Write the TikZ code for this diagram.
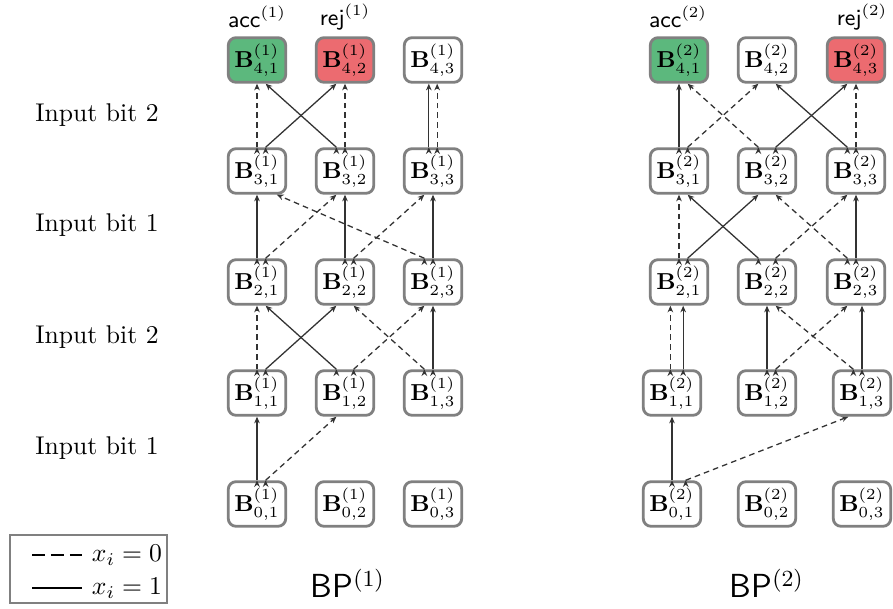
\documentclass[tikz,border=0pt]{standalone}
\usetikzlibrary{arrows.meta}
\definecolor{boxgray}{RGB}{128,128,128}
\definecolor{accgreen}{RGB}{92,184,125}
\definecolor{rejred}{RGB}{236,107,112}

\begin{document}
\begin{tikzpicture}[x=0.39pt, y=-0.39pt,
  state/.style={shape=rectangle, rounded corners=3pt, draw=boxgray, line width=1.1pt, fill=white, minimum width=22.4pt, minimum height=17.4pt, inner sep=0.5pt, font=\small},
  accstate/.style={state, fill=accgreen},
  rejstate/.style={state, fill=rejred},
  one/.style={-{Stealth[length=2.6pt, width=2.2pt]}, line width=0.5pt, draw=black!80},
  zero/.style={one, dash pattern=on 2.2pt off 1.6pt}]
\useasboundingbox (0,0) rectangle (893,609);
% input bit labels
\node (in4) at (97,115) {Input bit 2};
\node (in3) at (97,225) {Input bit 1};
\node (in2) at (97,337) {Input bit 2};
\node (in1) at (97,448) {Input bit 1};
% legend
\draw[draw=boxgray, line width=0.8pt] (10,535) rectangle (167,603);
\coordinate (l0a) at (32,555); \coordinate (l0b) at (82,555);
\coordinate (l1a) at (32,588); \coordinate (l1b) at (82,588);
\draw[line width=0.9pt, dash pattern=on 5pt off 2.4pt] (l0a) -- (l0b);
\draw[line width=0.9pt] (l1a) -- (l1b);
\node (leg0) at (127,555) {$x_i = 0$};
\node (leg1) at (127,588) {$x_i = 1$};
% BP(1)
\node (acc1) at (257,17) {\small\textsf{acc}$^{(1)}$};
\node (rej1) at (345,17) {\small\textsf{rej}$^{(1)}$};
\node[accstate] (a41) at (257,60) {$\mathbf{B}^{(1)}_{4,1}$};
\node[rejstate] (a42) at (345,60) {$\mathbf{B}^{(1)}_{4,2}$};
\node[state] (a43) at (433,60) {$\mathbf{B}^{(1)}_{4,3}$};
\node[state] (a31) at (257,171) {$\mathbf{B}^{(1)}_{3,1}$};
\node[state] (a32) at (345,171) {$\mathbf{B}^{(1)}_{3,2}$};
\node[state] (a33) at (433,171) {$\mathbf{B}^{(1)}_{3,3}$};
\node[state] (a21) at (257,282) {$\mathbf{B}^{(1)}_{2,1}$};
\node[state] (a22) at (345,282) {$\mathbf{B}^{(1)}_{2,2}$};
\node[state] (a23) at (433,282) {$\mathbf{B}^{(1)}_{2,3}$};
\node[state] (a11) at (257,393) {$\mathbf{B}^{(1)}_{1,1}$};
\node[state] (a12) at (345,393) {$\mathbf{B}^{(1)}_{1,2}$};
\node[state] (a13) at (433,393) {$\mathbf{B}^{(1)}_{1,3}$};
\node[state] (a01) at (257,504) {$\mathbf{B}^{(1)}_{0,1}$};
\node[state] (a02) at (345,504) {$\mathbf{B}^{(1)}_{0,2}$};
\node[state] (a03) at (433,504) {$\mathbf{B}^{(1)}_{0,3}$};
\node (bp1) at (348,583) {\fontsize{13}{15}\selectfont\textsf{BP}$^{(1)}$};
\path [one] (a01.north) edge (a11.south);
\path [zero] (a01.70) edge (a12.250);
\path [zero] (a11.north) edge (a21.south);
\path [one] (a11.70) edge (a22.250);
\path [one] (a12.110) edge (a21.290);
\path [zero] (a12.70) edge (a23.250);
\path [zero] (a13.110) edge (a22.290);
\path [one] (a13.north) edge (a23.south);
\path [one] (a21.north) edge (a31.south);
\path [zero] (a21.70) edge (a32.250);
\path [one] (a22.north) edge (a32.south);
\path [zero] (a22.70) edge (a33.250);
\path [zero] (a23.110) edge (a31.310);
\path [one] (a23.north) edge (a33.south);
\path [zero] (a31.north) edge (a41.south);
\path [one] (a31.70) edge (a42.250);
\path [one] (a32.110) edge (a41.290);
\path [zero] (a32.north) edge (a42.south);
\path [one] (a33.100) edge (a43.260);
\path [zero] (a33.80) edge (a43.280);
% BP(2)
\node (acc2) at (678,17) {\small\textsf{acc}$^{(2)}$};
\node (rej2) at (862,17) {\small\textsf{rej}$^{(2)}$};
\node[accstate] (b41) at (679,60) {$\mathbf{B}^{(2)}_{4,1}$};
\node[state] (b42) at (767,60) {$\mathbf{B}^{(2)}_{4,2}$};
\node[rejstate] (b43) at (856,60) {$\mathbf{B}^{(2)}_{4,3}$};
\node[state] (b31) at (679,171) {$\mathbf{B}^{(2)}_{3,1}$};
\node[state] (b32) at (767,171) {$\mathbf{B}^{(2)}_{3,2}$};
\node[state] (b33) at (856,171) {$\mathbf{B}^{(2)}_{3,3}$};
\node[state] (b21) at (679,282) {$\mathbf{B}^{(2)}_{2,1}$};
\node[state] (b22) at (767,282) {$\mathbf{B}^{(2)}_{2,2}$};
\node[state] (b23) at (856,282) {$\mathbf{B}^{(2)}_{2,3}$};
\node[state] (b11) at (672,393) {$\mathbf{B}^{(2)}_{1,1}$};
\node[state] (b12) at (767,393) {$\mathbf{B}^{(2)}_{1,2}$};
\node[state] (b13) at (862,393) {$\mathbf{B}^{(2)}_{1,3}$};
\node[state] (b01) at (672,504) {$\mathbf{B}^{(2)}_{0,1}$};
\node[state] (b02) at (767,504) {$\mathbf{B}^{(2)}_{0,2}$};
\node[state] (b03) at (862,504) {$\mathbf{B}^{(2)}_{0,3}$};
\node (bp2) at (767,583) {\fontsize{13}{15}\selectfont\textsf{BP}$^{(2)}$};
\path [one] (b01.north) edge (b11.south);
\path [zero] (b01.60) edge (b13.240);
\path [zero] (b21.250 |- b11.north) edge (b21.250);
\path [one] (b21.280 |- b11.north) edge (b21.280);
\path [one] (b12.north) edge (b22.south);
\path [zero] (b12.70) edge (b23.250);
\path [zero] (b13.110) edge (b22.290);
\path [one] (b13.north) edge (b13.north |- b23.south);
\path [zero] (b21.north) edge (b31.south);
\path [one] (b21.70) edge (b32.250);
\path [one] (b22.110) edge (b31.290);
\path [zero] (b22.70) edge (b33.250);
\path [zero] (b23.110) edge (b32.290);
\path [one] (b23.north) edge (b33.south);
\path [one] (b31.north) edge (b41.south);
\path [zero] (b31.70) edge (b42.250);
\path [zero] (b32.110) edge (b41.290);
\path [one] (b32.70) edge (b43.250);
\path [one] (b33.110) edge (b42.290);
\path [zero] (b33.north) edge (b43.south);
\end{tikzpicture}
\end{document}
